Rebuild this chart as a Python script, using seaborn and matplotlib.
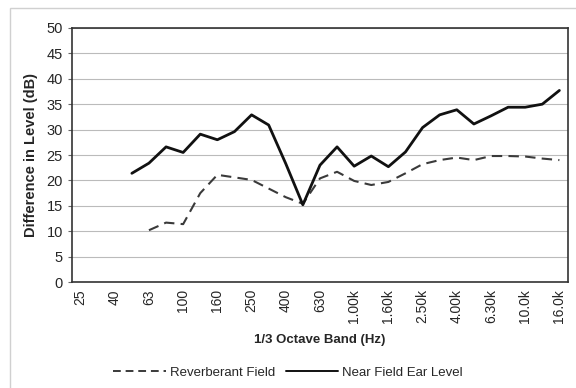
import numpy as np
import pandas as pd
import matplotlib
matplotlib.use("Agg")
import matplotlib.pyplot as plt
from matplotlib.lines import Line2D
import seaborn as sns

# 1/3 octave band centre frequencies
bands = ["25", "31.5", "40", "50", "63", "80", "100", "125", "160", "200",
         "250", "315", "400", "500", "630", "800", "1.00k", "1.25k", "1.60k",
         "2.00k", "2.50k", "3.15k", "4.00k", "5.00k", "6.30k", "8.00k",
         "10.0k", "12.5k", "16.0k"]

near_field = [np.nan, np.nan, np.nan, 21.4, 23.4, 26.6, 25.5, 29.1, 28.0, 29.6,
              32.9, 30.9, 23.3, 15.2, 23.0, 26.6, 22.8, 24.8, 22.7, 25.6,
              30.4, 32.9, 33.9, 31.1, 32.7, 34.4, 34.4, 35.0, 37.7]

reverberant = [np.nan, np.nan, np.nan, np.nan, 10.2, 11.7, 11.4, 17.5, 21.1, 20.6,
               20.1, 18.4, 16.7, 15.4, 20.4, 21.7, 19.9, 19.1, 19.7, 21.4,
               23.2, 24.0, 24.5, 24.0, 24.8, 24.8, 24.7, 24.3, 24.0]

series_names = ["Reverberant Field", "Near Field Ear Level"]

df = pd.DataFrame({
    "band": np.tile(np.arange(len(bands)), 2),
    "level": reverberant + near_field,
    "series": np.repeat(series_names, len(bands)),
}).dropna()

sns.set_style("white")
plt.rcParams["font.family"] = ["Liberation Sans", "DejaVu Sans"]

fig = plt.figure(figsize=(5.76, 3.88), dpi=100)
ax = fig.add_axes([0.125, 0.273, 0.861, 0.655])

sns.lineplot(data=df, x="band", y="level", hue="series", style="series",
             palette={"Reverberant Field": "#3a3a3a", "Near Field Ear Level": "#111111"},
             dashes={"Reverberant Field": (5, 3), "Near Field Ear Level": ""},
             legend=False, ax=ax)
# solid line a bit heavier than the dashed one
ax.lines[0].set_linewidth(1.5)
ax.lines[1].set_linewidth(2.0)

ax.set_xlim(-0.5, len(bands) - 0.5)
ax.set_ylim(0, 50)
ax.set_yticks(np.arange(0, 51, 5))
ax.yaxis.grid(True, color="#bbbbbb", linewidth=0.8)
ax.set_xticks(np.arange(0, len(bands), 2))
ax.set_xticklabels(bands[::2], rotation=90, fontsize=10)
ax.set_xticks(np.arange(-0.5, len(bands), 1), minor=True)
ax.tick_params(axis="x", which="major", length=0, pad=5)
ax.tick_params(axis="x", which="minor", length=3, color="#666666", direction="out")
ax.tick_params(axis="y", labelsize=10.5, length=3, left=True, color="#666666")
for s in ax.spines.values():
    s.set_color("#333333")
    s.set_linewidth(1.2)

ax.set_xlabel("1/3 Octave Band (Hz)", fontsize=9.5, fontweight="bold", labelpad=8)
ax.set_ylabel("Difference in Level (dB)", fontsize=10.5, fontweight="bold", labelpad=6)

# legend below the plot
handles = [Line2D([], [], color="#3a3a3a", lw=1.4, dashes=(4, 2.5)),
           Line2D([], [], color="#111111", lw=1.4)]
fig.legend(handles, series_names, loc="center", bbox_to_anchor=(0.5, 0.04),
           ncol=2, frameon=False, fontsize=9.5, handlelength=4,
           columnspacing=0.8, handletextpad=0.3)

# light outer frame of the chart area
fig.patches.append(plt.Rectangle((0.017, -0.02), 1.0, 1.0, transform=fig.transFigure,
                                 fill=False, edgecolor="#d0d0d0", linewidth=1))

fig.savefig("out.png", dpi=100)
